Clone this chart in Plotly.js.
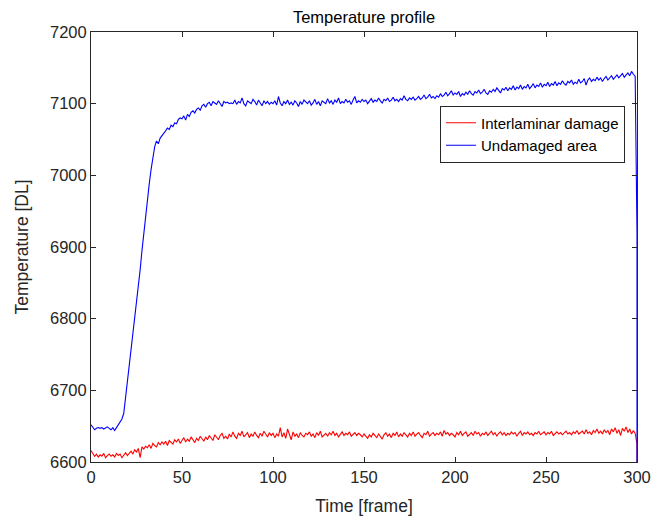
<!DOCTYPE html>
<html>
<head>
<meta charset="utf-8">
<script src="https://cdn.plot.ly/plotly-3.0.1.min.js"></script>
<style>html,body{margin:0;padding:0;background:#fff;}#chart{width:651px;height:517px;}</style>
</head>
<body>
<div id="chart"></div>
<script>
const seriesNames = ["Interlaminar damage", "Undamaged area"];
const xTickVals = [0, 50, 100, 150, 200, 250, 300];
const yTickVals = [6600, 6700, 6800, 6900, 7000, 7100, 7200];

const undamaged = [
6652,6648,6645,6647,6648,6647,6648,6646,6647,6649,
6647,6645,6648,6644,6648,6652,6656,6660,6668,6690,
6712,6735,6755,6778,6805,6822,6840,6868,6895,6920,
6945,6965,6988,7008,7025,7040,7048,7044,7052,7055,
7058,7062,7066,7064,7070,7068,7073,7072,7078,7080,
7079,7083,7077,7085,7082,7088,7090,7087,7092,7094,
7091,7097,7099,7095,7100,7102,7097,7103,7101,7099,
7104,7100,7096,7103,7101,7102,7100,7101,7100,7105,
7099,7103,7101,7108,7100,7097,7104,7102,7100,7106,
7103,7098,7105,7101,7097,7104,7100,7103,7099,7102,
7100,7104,7098,7110,7101,7097,7103,7100,7105,7099,
7102,7098,7104,7101,7096,7103,7099,7105,7102,7100,
7104,7098,7101,7106,7099,7103,7097,7104,7102,7100,
7107,7101,7104,7099,7105,7102,7108,7100,7103,7101,
7106,7102,7104,7099,7105,7110,7101,7104,7102,7106,
7103,7105,7100,7104,7107,7102,7105,7103,7108,7104,
7101,7106,7104,7108,7103,7105,7109,7104,7106,7103,
7107,7105,7111,7106,7104,7108,7106,7109,7105,7107,
7110,7106,7108,7112,7107,7109,7113,7108,7110,7107,
7111,7109,7114,7110,7112,7116,7111,7114,7118,7112,
7115,7113,7117,7110,7114,7112,7116,7113,7118,7114,
7112,7117,7115,7119,7114,7116,7120,7115,7113,7118,
7116,7120,7117,7122,7118,7115,7121,7119,7123,7118,
7122,7120,7125,7119,7123,7121,7126,7120,7124,7122,
7127,7121,7124,7128,7122,7126,7124,7129,7123,7127,
7125,7130,7124,7128,7126,7131,7125,7129,7127,7132,
7128,7126,7131,7129,7133,7127,7130,7128,7134,7129,
7131,7135,7126,7133,7136,7131,7134,7132,7137,7133,
7136,7131,7135,7138,7133,7136,7139,7134,7137,7140,
7136,7139,7142,7137,7140,7143,7139,7145,7141,7138,
6920,6590
];

const damage = [
6616,6612,6608,6611,6607,6610,6608,6612,6606,6609,
6611,6608,6610,6607,6612,6609,6611,6606,6610,6613,
6609,6612,6615,6611,6617,6614,6619,6606,6621,6618,
6622,6620,6624,6619,6626,6623,6621,6627,6624,6628,
6625,6629,6623,6630,6627,6625,6631,6628,6632,6626,
6630,6634,6628,6632,6629,6635,6631,6627,6633,6630,
6636,6632,6629,6635,6631,6637,6633,6630,6638,6634,
6631,6637,6640,6633,6636,6632,6639,6635,6642,6636,
6633,6640,6637,6643,6635,6638,6641,6634,6639,6636,
6642,6637,6634,6640,6636,6643,6638,6635,6641,6637,
6640,6634,6639,6636,6648,6635,6641,6633,6646,6637,
6631,6642,6636,6639,6634,6641,6637,6635,6640,6638,
6642,6636,6639,6634,6641,6637,6643,6635,6638,6640,
6636,6641,6638,6643,6637,6640,6635,6639,6642,6637,
6640,6638,6642,6636,6639,6641,6637,6640,6638,6635,
6639,6636,6633,6638,6635,6640,6637,6634,6639,6636,
6632,6638,6641,6636,6639,6634,6640,6637,6642,6635,
6639,6636,6641,6638,6635,6640,6637,6642,6636,6639,
6641,6637,6634,6640,6638,6643,6636,6639,6641,6637,
6640,6638,6642,6636,6644,6639,6641,6637,6640,6638,
6635,6641,6638,6643,6637,6640,6642,6636,6639,6641,
6637,6643,6639,6641,6636,6640,6638,6642,6637,6640,
6643,6638,6641,6636,6640,6642,6638,6641,6637,6640,
6638,6642,6639,6641,6636,6640,6643,6637,6641,6639,
6642,6638,6640,6637,6641,6639,6643,6638,6640,6642,
6638,6641,6639,6643,6637,6640,6642,6639,6641,6638,
6640,6643,6639,6641,6638,6642,6640,6644,6639,6641,
6643,6639,6645,6640,6642,6638,6644,6641,6646,6640,
6643,6639,6645,6641,6644,6638,6646,6642,6648,6640,
6645,6637,6647,6643,6649,6641,6646,6639,6644,6640,
6625,6600
];

function frames(n) {
  const f = [];
  for (let i = 0; i < n - 1; i++) f.push(i);
  f.push(n - 2); // last sample drawn at the final frame again
  return f;
}

const axisColor = '#262626';
const traces = [
  {x: frames(damage.length), y: damage, type: 'scatter', mode: 'lines', name: seriesNames[0],
   line: {color: '#ff0000', width: 1.1}},
  {x: frames(undamaged.length), y: undamaged, type: 'scatter', mode: 'lines', name: seriesNames[1],
   line: {color: '#0000ff', width: 1.1}}
];

const fam = 'Liberation Sans, Arial, sans-serif';
const layout = {
  width: 651, height: 517,
  margin: {l: 91, r: 14, t: 32, b: 55, pad: 0},
  paper_bgcolor: '#ffffff', plot_bgcolor: '#ffffff',
  font: {family: fam, size: 16, color: axisColor},
  title: {text: 'Temperature profile', x: 0.5, xref: 'paper', y: 0.967, yanchor: 'middle',
          font: {family: fam, size: 16.5, color: '#000'}},
  showlegend: true,
  legend: {x: 0.978, xanchor: 'right', y: 0.829, yanchor: 'top', bgcolor: '#ffffff',
           bordercolor: axisColor, borderwidth: 1,
           font: {family: fam, size: 15, color: '#000'},
           tracegroupgap: 0, itemwidth: 30},
  xaxis: {range: [0, 300], tickvals: xTickVals, ticktext: xTickVals.map(String),
          ticks: 'inside', ticklen: 5, tickcolor: axisColor, mirror: 'ticks',
          tickfont: {family: fam, size: 16.5, color: axisColor},
          showline: true, linecolor: axisColor, linewidth: 1, showgrid: false, zeroline: false,
          title: {text: 'Time [frame]', standoff: 14, font: {family: fam, size: 17.5, color: axisColor}}},
  yaxis: {range: [6600, 7200], tickvals: yTickVals, ticktext: yTickVals.map(String),
          ticks: 'inside', ticklen: 5, tickcolor: axisColor, mirror: 'ticks',
          tickfont: {family: fam, size: 16.5, color: axisColor},
          showline: true, linecolor: axisColor, linewidth: 1, showgrid: false, zeroline: false,
          title: {text: 'Temperature [DL]', standoff: 16, font: {family: fam, size: 17.5, color: axisColor}}}
};

Plotly.newPlot('chart', traces, layout, {displayModeBar: false, staticPlot: true});
</script>
</body>
</html>
